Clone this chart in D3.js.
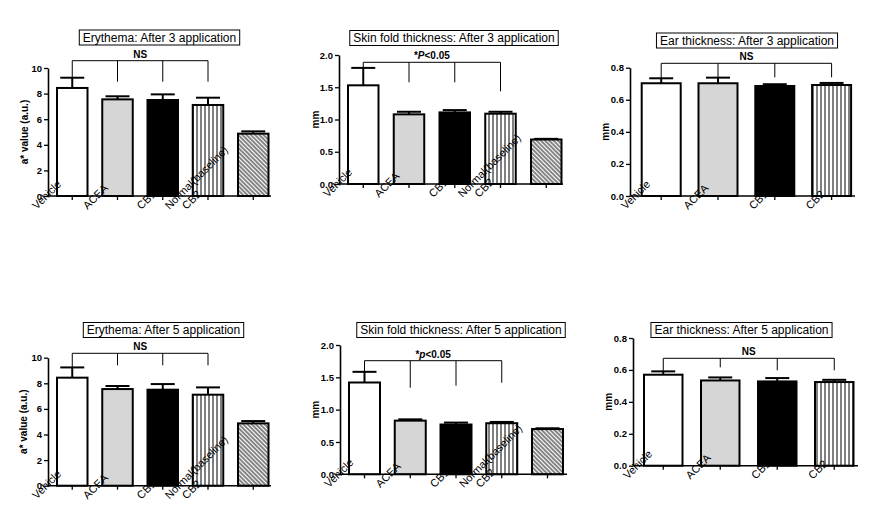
<!DOCTYPE html>
<html><head><meta charset="utf-8">
<script src="https://cdn.jsdelivr.net/npm/d3@7"></script>
<style>body{margin:0;background:#fff} svg{display:block} text{font-family:"Liberation Sans",Arial,Helvetica,sans-serif}</style>
</head><body><svg id="c" width="872" height="514"></svg>
<script>
// ---- data ----
const cats5 = ["Vehicle", "ACEA", "CB1", "CB2", "Normal(baseline)"];
const cats4 = ["Vehicle", "ACEA", "CB1", "CB2"];
const ery3Values = [8.44, 7.55, 7.5, 7.11, 4.87];
const ery3Errors = [0.80, 0.24, 0.44, 0.57, 0.18];
const ery5Values = [8.44, 7.55, 7.5, 7.11, 4.87];
const ery5Errors = [0.80, 0.24, 0.44, 0.57, 0.18];
const skin3Values = [1.53, 1.08, 1.11, 1.09, 0.69];
const skin3Errors = [0.27, 0.04, 0.036, 0.03, 0.01];
const skin5Values = [1.42, 0.83, 0.77, 0.79, 0.70];
const skin5Errors = [0.165, 0.02, 0.03, 0.02, 0.012];
const ear3Values = [0.703, 0.703, 0.686, 0.692];
const ear3Errors = [0.031, 0.035, 0.011, 0.013];
const ear5Values = [0.570, 0.534, 0.528, 0.524];
const ear5Errors = [0.021, 0.019, 0.021, 0.014];
const eryTicks = [0, 2, 4, 6, 8, 10];
const skinTicks = [0, 0.5, 1.0, 1.5, 2.0];
const earTicks = [0, 0.2, 0.4, 0.6, 0.8];

// ---- layout ----
const panels = [
  {title:"Erythema: After 3 application", cats:cats5, values:ery3Values, errors:ery3Errors, ticks:eryTicks, fmt:d3.format("d"),
   yLabel:"a* value (a.u.)", sig:"NS", x0:48, xEnd:271, yTop:68, y0:196, barStart:57, step:45.25, bw:30.5, tcx:159.5, tcy:37.5, by:60.7, drops:[null,21,21,21]},
  {title:"Skin fold thickness: After 3 application", cats:cats5, values:skin3Values, errors:skin3Errors, ticks:skinTicks, fmt:d3.format(".1f"),
   yLabel:"mm", sig:"P", x0:339, xEnd:563, yTop:55, y0:184, barStart:348, step:45.75, bw:30.5, tcx:454, tcy:38, by:62.3, drops:[null,20,20,29]},
  {title:"Ear thickness: After 3 application", cats:cats4, values:ear3Values, errors:ear3Errors, ticks:earTicks, fmt:d3.format(".1f"),
   yLabel:"mm", sig:"NS", x0:630, xEnd:855, yTop:67.7, y0:196, barStart:641.7, step:56.8, bw:39, tcx:747, tcy:40.5, by:63.3, drops:[null,14,14,14]},
  {title:"Erythema: After 5 application", cats:cats5, values:ery5Values, errors:ery5Errors, ticks:eryTicks, fmt:d3.format("d"),
   yLabel:"a* value (a.u.)", sig:"NS", x0:48, xEnd:271, yTop:357.7, y0:485.7, barStart:57, step:45.25, bw:30.5, tcx:163.5, tcy:330, by:353.3, drops:[null,12,12,12]},
  {title:"Skin fold thickness: After 5 application", cats:cats5, values:skin5Values, errors:skin5Errors, ticks:skinTicks, fmt:d3.format(".1f"),
   yLabel:"mm", sig:"p", x0:340, xEnd:567, yTop:345, y0:474.3, barStart:349, step:45.75, bw:31, tcx:461, tcy:330, by:360.7, drops:[null,27,25,22]},
  {title:"Ear thickness: After 5 application", cats:cats4, values:ear5Values, errors:ear5Errors, ticks:earTicks, fmt:d3.format(".1f"),
   yLabel:"mm", sig:"NS", x0:633, xEnd:858, yTop:338, y0:465.7, barStart:644, step:57, bw:38.5, tcx:741.5, tcy:330, by:358.3, drops:[null,9,12,12]}
];
const fills = ["#ffffff", "#d6d6d6", "#000000", "url(#vstripe)", "url(#dhatch)"];

const svg = d3.select("#c");
const defs = svg.append("defs");
const vs = defs.append("pattern").attr("id","vstripe").attr("patternUnits","userSpaceOnUse").attr("width",4).attr("height",4);
vs.append("rect").attr("width",4).attr("height",4).attr("fill","#fff");
vs.append("line").attr("x1",1).attr("x2",1).attr("y1",0).attr("y2",4).attr("stroke","#000").attr("stroke-width",1);
const dh = defs.append("pattern").attr("id","dhatch").attr("patternUnits","userSpaceOnUse").attr("width",3).attr("height",3).attr("patternTransform","rotate(-45)");
dh.append("rect").attr("width",3).attr("height",3).attr("fill","#fff");
dh.append("line").attr("x1",1).attr("x2",1).attr("y1",0).attr("y2",3).attr("stroke","#444").attr("stroke-width",1.3);

panels.forEach(p => {
  const g = svg.append("g");
  const n = p.cats.length;
  const pi = 1 - p.bw / p.step;
  const x = d3.scaleBand().domain(p.cats).range([p.barStart, p.barStart + p.step * (n - pi)]).paddingInner(pi).paddingOuter(0);
  const yMax = p.ticks[p.ticks.length - 1];
  const y = d3.scaleLinear().domain([0, yMax]).range([p.y0, p.yTop]);
  const cx = c => x(c) + x.bandwidth() / 2;

  // bars
  g.selectAll("rect.bar").data(p.cats).join("rect").attr("class","bar")
    .attr("x", c => x(c)).attr("width", x.bandwidth())
    .attr("y", (c,i) => y(p.values[i])).attr("height", (c,i) => p.y0 - y(p.values[i]))
    .attr("fill", (c,i) => fills[i]).attr("stroke","#000").attr("stroke-width",2);

  // error bars (upper)
  p.cats.forEach((c,i) => {
    const top = y(p.values[i] + p.errors[i]);
    g.append("line").attr("x1",cx(c)).attr("x2",cx(c)).attr("y1",y(p.values[i])).attr("y2",top).attr("stroke","#000").attr("stroke-width",2);
    g.append("line").attr("x1",cx(c)-12).attr("x2",cx(c)+12).attr("y1",top).attr("y2",top).attr("stroke","#000").attr("stroke-width",2);
  });

  // y axis
  const ya = g.append("g").attr("transform",`translate(${p.x0},0)`)
    .call(d3.axisLeft(y).tickValues(p.ticks).tickFormat(p.fmt).tickSize(4).tickSizeOuter(0).tickPadding(2));
  ya.select(".domain").attr("stroke-width",1.6);
  ya.selectAll(".tick line").attr("stroke-width",1.3);
  ya.selectAll(".tick text").attr("font-size",9.5).attr("font-weight","bold").attr("fill","#000");

  // x axis
  const xa = g.append("g").attr("transform",`translate(0,${p.y0})`)
    .call(d3.axisBottom(x).tickSize(4).tickSizeOuter(0).tickFormat(""));
  xa.select(".domain").attr("d", `M${p.x0},0H${p.xEnd}`).attr("stroke-width",1.6);
  xa.selectAll(".tick line").attr("stroke-width",1.3);

  // x labels
  p.cats.forEach(c => {
    const t = g.append("text").attr("font-size",11).attr("fill","#000").text(c);
    const w = t.node().getComputedTextLength();
    const sx = cx(c) - w, sy = p.y0 + 14;
    t.attr("x", sx).attr("y", sy).attr("transform", `rotate(-45,${sx},${sy})`);
  });

  // y label
  const lx = p.x0 - 24, ly = (p.y0 + p.yTop) / 2;
  g.append("text").attr("x",lx).attr("y",ly).attr("transform",`rotate(-90,${lx},${ly})`)
    .attr("text-anchor","middle").attr("font-size",10).attr("font-weight","bold").attr("dy","0.35em").text(p.yLabel);

  // title box
  const tt = g.append("text").attr("x",p.tcx).attr("y",p.tcy).attr("text-anchor","middle").attr("dy","0.36em")
    .attr("font-size",12).text(p.title);
  const bb = tt.node().getBBox();
  g.insert("rect", () => tt.node()).attr("x", p.tcx - bb.width/2 - 3.5).attr("y", p.tcy - 7.5).attr("width", bb.width + 7).attr("height", 15)
    .attr("fill","#fff").attr("stroke","#000").attr("stroke-width",1);

  // significance bracket
  const bx1 = cx(p.cats[0]), bx2 = cx(p.cats[3]);
  g.append("line").attr("x1",bx1).attr("x2",bx2).attr("y1",p.by).attr("y2",p.by).attr("stroke","#000").attr("stroke-width",1);
  p.drops.forEach((d,i) => {
    const c = p.cats[i];
    const end = d === null ? y(p.values[i] + p.errors[i]) : p.by + d;
    g.append("line").attr("x1",cx(c)).attr("x2",cx(c)).attr("y1",p.by).attr("y2",end).attr("stroke","#000").attr("stroke-width",1);
  });
  const st = g.append("text").attr("x",(bx1+bx2)/2).attr("y",p.by - 3).attr("text-anchor","middle")
    .attr("font-size",10).attr("font-weight","bold");
  if (p.sig === "NS") st.text("NS");
  else {
    st.append("tspan").text("*");
    st.append("tspan").attr("font-style","italic").text(p.sig);
    st.append("tspan").text("<0.05");
  }
});
</script></body></html>
